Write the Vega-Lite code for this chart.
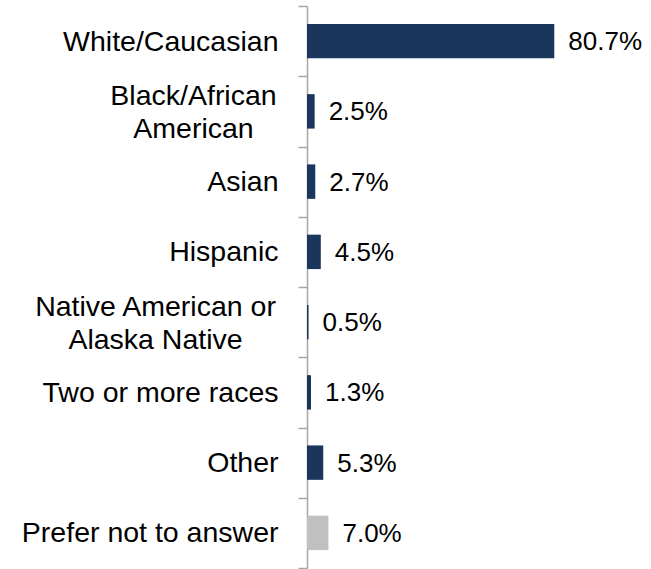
{
  "$schema": "https://vega.github.io/schema/vega-lite/v6.json",
  "autosize": {"type": "none"},
  "padding": {"left": 307, "top": 6, "right": 10, "bottom": 1},
  "width": 334,
  "height": 562,
  "background": "white",
  "config": {"view": {"stroke": null}, "font": "Liberation Sans"},
  "data": {
    "values": [
      {"category": "White/Caucasian", "value": 0.807},
      {"category": "Black/African American", "value": 0.025},
      {"category": "Asian", "value": 0.027},
      {"category": "Hispanic", "value": 0.045},
      {"category": "Native American or Alaska Native", "value": 0.005},
      {"category": "Two or more races", "value": 0.013},
      {"category": "Other", "value": 0.053},
      {"category": "Prefer not to answer", "value": 0.07}
    ]
  },
  "encoding": {
    "y": {
      "field": "category",
      "type": "nominal",
      "sort": null,
      "scale": {"paddingInner": 0, "paddingOuter": 0},
      "axis": {
        "title": null,
        "tickBand": "extent",
        "domainColor": "#a6a6a6",
        "domainWidth": 1.5,
        "tickColor": "#a6a6a6",
        "tickWidth": 1.5,
        "tickSize": 9,
        "labelFontSize": 28.5,
        "labelColor": "#000000",
        "labelLineHeight": 33,
        "labelLimit": 400,
        "labelAlign": {
          "condition": {"test": "datum.value == 'Black/African American' || datum.value == 'Native American or Alaska Native'", "value": "center"},
          "value": "right"
        },
        "labelPadding": {
          "condition": [
            {"test": "datum.value == 'Black/African American'", "value": 105},
            {"test": "datum.value == 'Native American or Alaska Native'", "value": 143}
          ],
          "value": 20
        },
        "labelOffset": {
          "condition": {"test": "datum.value == 'Black/African American' || datum.value == 'Native American or Alaska Native'", "value": -16},
          "value": 0
        },
        "labelExpr": "datum.label == 'Black/African American' ? ['Black/African', 'American'] : datum.label == 'Native American or Alaska Native' ? ['Native American or', 'Alaska Native'] : datum.label"
      }
    },
    "x": {
      "field": "value",
      "type": "quantitative",
      "scale": {"domain": [0, 1.09], "nice": false},
      "axis": null
    }
  },
  "layer": [
    {
      "mark": {"type": "bar", "height": {"band": 0.49}},
      "encoding": {
        "color": {
          "condition": {"test": "datum.category === 'Prefer not to answer'", "value": "#c0c0c0"},
          "value": "#1b365d"
        }
      }
    },
    {
      "mark": {"type": "text", "align": "left", "baseline": "middle", "dx": 14, "dy": 1, "fontSize": 26, "color": "#000000"},
      "encoding": {
        "text": {"field": "value", "type": "quantitative", "format": ".1%"}
      }
    }
  ]
}
